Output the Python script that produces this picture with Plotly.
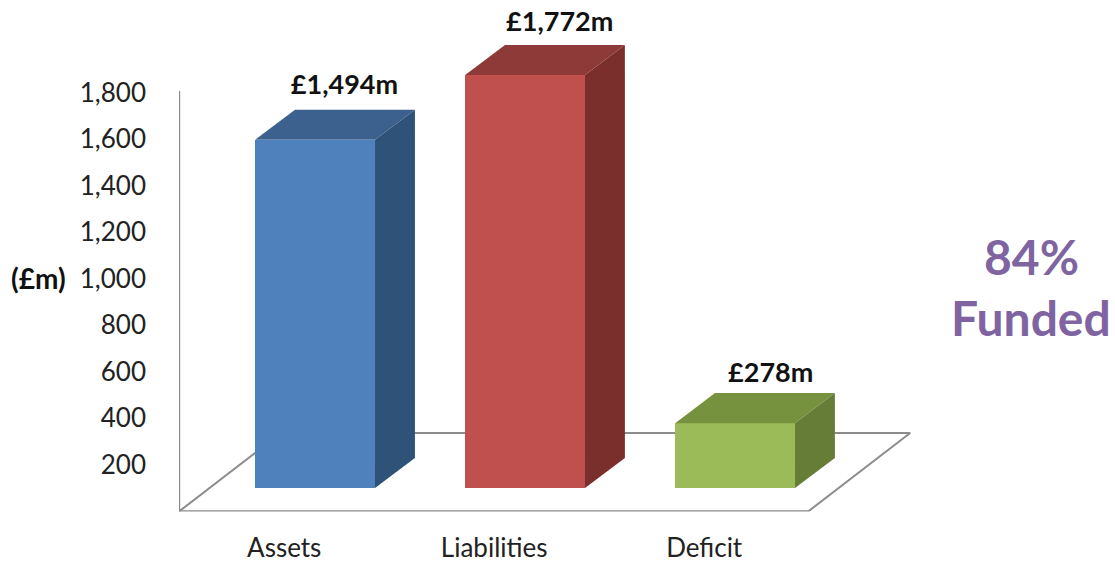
import plotly.graph_objects as go

categories = ["Assets", "Liabilities", "Deficit"]
values = [1494, 1772, 278]
value_labels = ["£1,494m", "£1,772m", "£278m"]
front_colors = ["#4F81BD", "#C0504D", "#9BBB59"]
top_colors = ["#3C618E", "#8E3A38", "#77923F"]
side_colors = ["#2F5278", "#7A2F2D", "#667D38"]
y_ticks = [200, 400, 600, 800, 1000, 1200, 1400, 1600, 1800]

W, H = 1115, 563
AXIS_COLOR = "#8C8C8C"
FONT = "Lato"
BAR_W = 0.571
DEPTH_X, DEPTH_Y = 0.19, 129
FLOOR_DX, FLOOR_DY = 0.486, 337
X_RANGE = [-0.648, 2.857]
FRONT_RIGHT = 2.348
AXIS_TOP = 1806
LABEL_SHIFT = -0.147
VALUE_LABEL_DX = [0.14, 0.165, 0.17]
VALUE_LABEL_DY = [95, 87, 78]
positions = list(range(len(categories)))

fig = go.Figure()

x0 = X_RANGE[0]
# axis walls and floor of the 3D box, behind the bars
fig.add_trace(go.Scatter(
    x=[x0, x0 + FLOOR_DX, FRONT_RIGHT + FLOOR_DX, FRONT_RIGHT],
    y=[0, FLOOR_DY, FLOOR_DY, 0],
    mode="lines", line=dict(color=AXIS_COLOR, width=2),
    cliponaxis=False, showlegend=False, hoverinfo="skip", yaxis="y",
))
fig.add_trace(go.Scatter(
    x=[x0, x0, FRONT_RIGHT],
    y=[AXIS_TOP, 0, 0],
    mode="lines", line=dict(color=AXIS_COLOR, width=2.4),
    cliponaxis=False, showlegend=False, hoverinfo="skip", yaxis="y",
))

# front faces
fig.add_trace(go.Bar(
    x=positions, y=values, width=BAR_W, marker=dict(color=front_colors, line_width=0),
    cliponaxis=False, showlegend=False, yaxis="y2",
))

# top and side faces, derived from the values
for p, v, tc, sc in zip(positions, values, top_colors, side_colors):
    l, r = p - BAR_W / 2, p + BAR_W / 2
    fig.add_trace(go.Scatter(
        x=[l, l + DEPTH_X, r + DEPTH_X, r, l],
        y=[v, v + DEPTH_Y, v + DEPTH_Y, v, v],
        mode="lines", fill="toself", fillcolor=tc, line=dict(width=0, color=tc),
        showlegend=False, hoverinfo="skip", yaxis="y2",
    ))
    fig.add_trace(go.Scatter(
        x=[r, r + DEPTH_X, r + DEPTH_X, r, r],
        y=[0, DEPTH_Y, v + DEPTH_Y, v, 0],
        mode="lines", fill="toself", fillcolor=sc, line=dict(width=0, color=sc),
        showlegend=False, hoverinfo="skip", yaxis="y2",
    ))

# value labels above each box
fig.add_trace(go.Scatter(
    x=[p + d for p, d in zip(positions, VALUE_LABEL_DX)],
    y=[v + DEPTH_Y + d for v, d in zip(values, VALUE_LABEL_DY)],
    mode="text", text=value_labels,
    textfont=dict(family=FONT, size=27, color="#111111", weight="bold"),
    textposition="middle center",
    cliponaxis=False, showlegend=False, hoverinfo="skip", yaxis="y2",
))

DOMAIN_Y = [(H - 511.5) / H, 1]
fig.update_layout(
    width=W, height=H, autosize=False,
    margin=dict(l=0, r=0, t=0, b=0, autoexpand=False),
    paper_bgcolor="white", plot_bgcolor="rgba(0,0,0,0)",
    font=dict(family=FONT, color="#222222"),
    bargap=0,
    xaxis=dict(
        domain=[179 / W, 915 / W], range=X_RANGE, automargin=False,
        tickmode="array", tickvals=[p + LABEL_SHIFT for p in positions], ticktext=categories,
        tickfont=dict(family=FONT, size=26, color="#222222"),
        showgrid=False, zeroline=False, showline=False,
        ticks="", ticklabelstandoff=18,
    ),
    yaxis=dict(
        domain=DOMAIN_Y, range=[0, 2197], automargin=False,
        tickmode="array", tickvals=y_ticks, tickformat=",",
        tickfont=dict(family=FONT, size=26, color="#222222"),
        showgrid=False, zeroline=False, showline=False,
        ticks="", ticklabelstandoff=32,
    ),
    yaxis2=dict(
        domain=DOMAIN_Y, range=[-101, 2094], automargin=False,
        overlaying="y", side="left", anchor="x", visible=False,
    ),
    annotations=[
        dict(text="<b>(£m)</b>", x=38 / W, y=1 - 278 / H, xref="paper", yref="paper",
             xanchor="center", yanchor="middle", showarrow=False,
             font=dict(family=FONT, size=28, color="#111111")),
        dict(text="<b>84%</b>", x=1031 / W, y=1 - 256 / H, xref="paper", yref="paper",
             xanchor="center", yanchor="middle", showarrow=False,
             font=dict(family=FONT, size=48, color="#8064A2")),
        dict(text="<b>Funded</b>", x=1031 / W, y=1 - 317 / H, xref="paper", yref="paper",
             xanchor="center", yanchor="middle", showarrow=False,
             font=dict(family=FONT, size=48, color="#8064A2")),
    ],
)

fig.write_html("out.html", config=dict(displayModeBar=False),
               post_script="document.body.style.margin='0';")
